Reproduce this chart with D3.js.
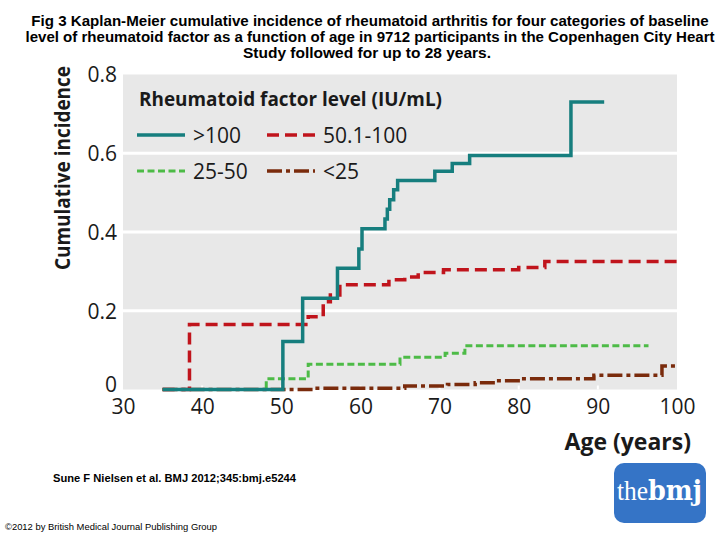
<!DOCTYPE html>
<html><head><meta charset="utf-8">
<script src="https://cdn.jsdelivr.net/npm/d3@7"></script>
<style>
body{margin:0;background:#fff;}
svg{display:block;}
</style></head>
<body>
<svg id="chart" width="722" height="535"></svg>
<script>
// ---- data ----
const titleLines = [
  "Fig 3  Kaplan-Meier cumulative incidence of rheumatoid arthritis for four categories of baseline",
  "level of rheumatoid  factor as a function of age in 9712 participants in the Copenhagen City Heart",
  "Study followed for up to 28 years."
];
const seriesNames = [">100", "50.1-100", "25-50", "<25"];
const ages_gt100 = [35, 50.2, 52.7, 57.1, 59.8, 60.2, 63.1, 63.4, 63.7, 64.2, 64.7, 69.4, 71.6, 73.8, 86.6, 90.8];
const inc_gt100  = [0, 0.122, 0.232, 0.308, 0.357, 0.408, 0.433, 0.458, 0.482, 0.507, 0.531, 0.554, 0.574, 0.594, 0.730, 0.730];
const ages_50_100 = [35, 38.4, 53.4, 55.3, 56.2, 57.4, 63.6, 65.6, 67.3, 70.5, 80.0, 83.3, 100];
const inc_50_100  = [0, 0.165, 0.185, 0.223, 0.240, 0.266, 0.279, 0.286, 0.297, 0.304, 0.310, 0.325, 0.325];
const ages_25_50 = [35, 48.1, 53.4, 65.0, 70.7, 73.2, 96.4];
const inc_25_50  = [0, 0.027, 0.064, 0.082, 0.092, 0.111, 0.111];
const ages_lt25 = [35, 54.2, 65.6, 71.0, 74.5, 77.0, 80.4, 89.5, 98.1, 100];
const inc_lt25  = [0, 0.003, 0.009, 0.013, 0.017, 0.022, 0.027, 0.036, 0.060, 0.060];
const xTicks = [30, 40, 50, 60, 70, 80, 90, 100];
const yTicks = [0, 0.2, 0.4, 0.6, 0.8];
const legendTitle = "Rheumatoid factor level (IU/mL)";
const yTitle = "Cumulative incidence";
const xTitle = "Age (years)";
const citation = "Sune F Nielsen et al. BMJ 2012;345:bmj.e5244";
const copyright = "\u00a92012 by British Medical Journal Publishing Group";

// ---- styles ----
const colors = ["#167e7e", "#c0141c", "#4dbb47", "#7a2b0c"];
const dashes = [null, "12,6", "7,3.5", "15,4,4,4"];
const widths = [3.5, 3.5, 3, 3.5];
const chartFont = "'Open Sans', 'Noto Sans', sans-serif";

const svg = d3.select("#chart");
const x = d3.scaleLinear().domain([30, 100]).range([123, 677]);
const y = d3.scaleLinear().domain([0, 0.8]).range([389.5, 74.5]);

// helper: horizontally squeezed text (fits target width, keeps glyph height)
function fitText(parent, txt, cx, baseY, target, attrs) {
  const g = parent.append("g");
  const t = g.append("text").attr("x", 0).attr("y", 0).attr("text-anchor", "middle").text(txt);
  Object.entries(attrs).forEach(([k, v]) => t.attr(k, v));
  const w = t.node().getComputedTextLength();
  const s = Math.min(1, target / w);
  g.attr("transform", `translate(${cx},${baseY}) scale(${s},1)`);
  return g;
}

// title
const tl = [[370, 25.5, 678], [370, 41.8, 690], [367, 58, 254]];
titleLines.forEach((t, i) => {
  fitText(svg, t, tl[i][0], tl[i][1], tl[i][2], {
    "font-family": "'Liberation Sans', Arial, sans-serif",
    "font-weight": "bold", "font-size": 15.5, "fill": "#000"
  });
});

// panel
svg.append("rect").attr("x", x(30)).attr("y", y(0.8))
  .attr("width", x(100) - x(30)).attr("height", y(0) - y(0.8))
  .attr("fill", "#e8e8e8");

// gridlines
svg.append("g").selectAll("line").data(yTicks.filter(v => v > 0 && v < 0.8)).join("line")
  .attr("x1", x(30)).attr("x2", x(100))
  .attr("y1", d => y(d)).attr("y2", d => y(d))
  .attr("stroke", "#fff").attr("stroke-width", 3);

// x axis
const xAxis = svg.append("g").attr("transform", `translate(0,${y(0)})`)
  .call(d3.axisBottom(x).tickValues(xTicks).tickSize(0).tickPadding(0).tickFormat(d3.format("d")));
xAxis.select(".domain").remove();
xAxis.selectAll("text").attr("font-family", chartFont).attr("font-size", 21)
  .attr("fill", "#1a1a1a").attr("dy", null).attr("y", 24);
// small white tick marks inside panel
svg.append("g").selectAll("line").data(xTicks.filter(v => v > 30 && v < 100)).join("line")
  .attr("x1", d => x(d)).attr("x2", d => x(d))
  .attr("y1", y(0)).attr("y2", y(0) - 4)
  .attr("stroke", "#fff").attr("stroke-width", 2);

// y axis
const yAxis = svg.append("g").attr("transform", `translate(117,0)`)
  .call(d3.axisLeft(y).tickValues(yTicks).tickSize(0).tickPadding(0)
    .tickFormat(d => d === 0 ? "0" : d3.format(".1f")(d)));
yAxis.select(".domain").remove();
yAxis.selectAll("text").attr("font-family", chartFont).attr("font-size", 21)
  .attr("fill", "#1a1a1a").attr("dy", d => d === 0 ? "0.1em" : "0.35em");

// axis titles
svg.append("text").attr("transform", "translate(70,168) rotate(-90)")
  .attr("text-anchor", "middle").attr("font-family", chartFont)
  .attr("font-weight", "bold").attr("font-size", 21).attr("fill", "#1a1a1a")
  .attr("textLength", 204).attr("lengthAdjust", "spacingAndGlyphs")
  .text(yTitle);
svg.append("text").attr("x", 691).attr("y", 450)
  .attr("text-anchor", "end").attr("font-family", chartFont)
  .attr("font-weight", "bold").attr("font-size", 23).attr("fill", "#1a1a1a")
  .text(xTitle);

// lines
const allAges = [ages_gt100, ages_50_100, ages_25_50, ages_lt25];
const allInc = [inc_gt100, inc_50_100, inc_25_50, inc_lt25];
const line = d3.line().x(d => x(d[0])).y(d => y(d[1])).curve(d3.curveStepAfter);
const order = [3, 2, 1, 0];
order.forEach(i => {
  const pts = allAges[i].map((a, j) => [a, allInc[i][j]]);
  svg.append("path").datum(pts).attr("d", line)
    .attr("fill", "none").attr("stroke", colors[i])
    .attr("stroke-width", widths[i])
    .attr("stroke-dasharray", dashes[i])
    .attr("stroke-linejoin", "miter");
});

// legend
svg.append("text").attr("x", 139).attr("y", 106)
  .attr("font-family", chartFont).attr("font-weight", "bold").attr("font-size", 20)
  .attr("textLength", 303).attr("lengthAdjust", "spacingAndGlyphs")
  .attr("fill", "#1a1a1a").text(legendTitle);
const legPos = [[137, 135], [267, 135], [137, 171], [267, 171]];
seriesNames.forEach((name, i) => {
  const [lx, ly] = legPos[i];
  svg.append("line").attr("x1", lx).attr("x2", lx + 48).attr("y1", ly).attr("y2", ly)
    .attr("stroke", colors[i]).attr("stroke-width", widths[i])
    .attr("stroke-dasharray", dashes[i]);
  svg.append("text").attr("x", lx + 56).attr("y", ly + 7.5)
    .attr("font-family", chartFont).attr("font-size", 21).attr("fill", "#1a1a1a")
    .text(name);
});

// citation & copyright
svg.append("text").attr("x", 53).attr("y", 482)
  .attr("font-family", "'Liberation Sans', Arial, sans-serif").attr("font-weight", "bold")
  .attr("font-size", 11.5).attr("textLength", 243).attr("lengthAdjust", "spacingAndGlyphs")
  .text(citation);
svg.append("text").attr("x", 5).attr("y", 530)
  .attr("font-family", "'Liberation Sans', Arial, sans-serif")
  .attr("font-size", 9.5).attr("textLength", 212).attr("lengthAdjust", "spacingAndGlyphs")
  .text(copyright);

// logo
svg.append("rect").attr("x", 614).attr("y", 463).attr("width", 92).attr("height", 60)
  .attr("rx", 10).attr("fill", "#3574c6");
const logo = svg.append("text").attr("x", 617).attr("y", 500)
  .attr("fill", "#fff").attr("font-size", 27)
  .attr("textLength", 85).attr("lengthAdjust", "spacingAndGlyphs");
logo.append("tspan").attr("font-family", "'Liberation Serif', serif").attr("font-weight", "normal").text("the");
logo.append("tspan").attr("font-family", "'DejaVu Serif', serif").attr("font-weight", "bold").text("bmj");
</script>
</body></html>
